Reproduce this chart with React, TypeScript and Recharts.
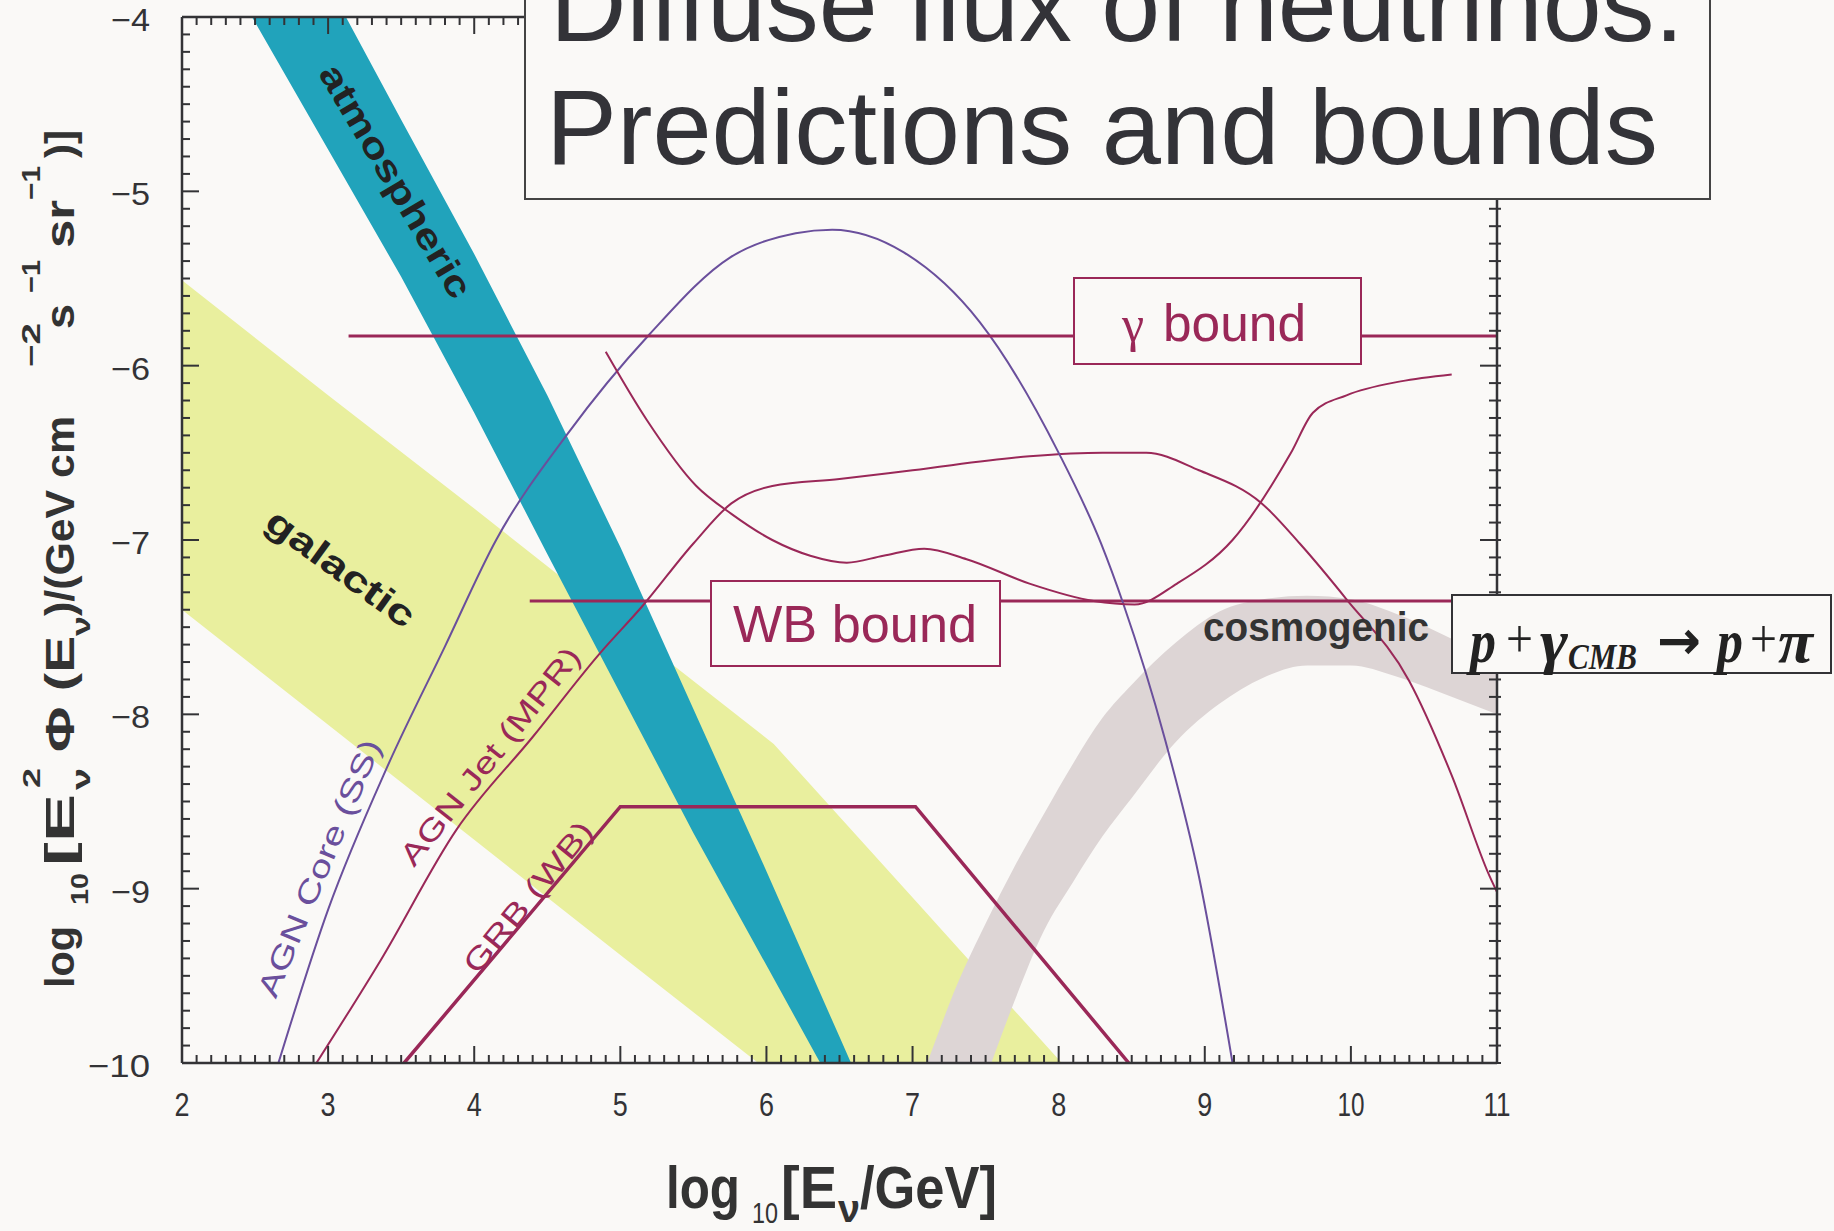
import React from "react";
import { ComposedChart, Area, Line, XAxis, YAxis } from "recharts";

const W = 1834;
const H = 1231;
const BG = "#faf9f7";
const AXIS = "#333336";
const TEAL = "#21a3bb";
const YELLOW = "#e9ef9e";
const COSMO = "#ddd5d5";
const PURPLE = "#6a4f9c";
const MAROON = "#9a2858";
const SANS = "'Liberation Sans', Arial, Helvetica, sans-serif";
const SERIF = "'Liberation Serif', 'Times New Roman', serif";

// galactic band (log10 E, lower / upper edge)
const galacticX = [2, 3, 4, 5, 6.05, 7.0, 8.0, 8.2];
const galacticLow = [-7.4, -8.06, -8.72, -9.38, -10.07, -10.7, -11.35, -11.48];
const galacticHigh = [-5.51, -6.17, -6.82, -7.48, -8.17, -9.05, -9.98, -10.17];

// atmospheric band
const atmoX = [2, 2.5, 3, 3.5, 4, 4.5, 5, 5.5, 6, 6.5, 7];
const atmoLow = [-3.3, -4.03, -4.76, -5.49, -6.27, -7.08, -7.88, -8.68, -9.44, -10.2, -10.96];
const atmoHigh = [-2.26, -3.04, -3.81, -4.59, -5.36, -6.17, -7.04, -7.97, -8.9, -9.85, -10.8];

// cosmogenic band
const cosmoX = [6.9, 7.1, 7.3, 7.5, 7.7, 7.9, 8.1, 8.3, 8.5, 8.8, 9.1, 9.4, 9.7, 10.0, 10.3, 10.6, 11.0];
const cosmoLow = [-11.5, -11.0, -10.55, -10.09, -9.64, -9.24, -8.96, -8.7, -8.48, -8.16, -7.94, -7.79, -7.72, -7.72, -7.78, -7.87, -8.0];
const cosmoHigh = [-10.45, -10.0, -9.56, -9.2, -8.87, -8.57, -8.28, -8.02, -7.83, -7.59, -7.41, -7.34, -7.32, -7.34, -7.42, -7.53, -7.7];

// AGN core (SS)
const agnCoreX = [2.66, 3.0, 3.4, 3.8, 4.15, 4.64, 5.2, 5.75, 6.2, 6.45, 6.94, 7.46, 8.0, 8.29, 8.44, 8.73, 8.96, 9.19];
const agnCoreY = [-10, -9.12, -8.31, -7.61, -7.0, -6.39, -5.82, -5.38, -5.24, -5.22, -5.35, -5.75, -6.5, -7.02, -7.36, -8.15, -8.93, -10];

// AGN jet (MPR)
const agnJetX = [2.92, 3.36, 3.88, 4.4, 4.86, 5.15, 5.5, 5.76, 6.04, 6.5, 7.0, 7.8, 8.3, 8.6, 8.96, 9.39, 9.65, 9.97, 10.4, 10.69, 10.95, 11.0];
const agnJetY = [-10, -9.41, -8.66, -8.13, -7.65, -7.38, -7.02, -6.79, -6.69, -6.65, -6.6, -6.52, -6.5, -6.5, -6.6, -6.79, -7.02, -7.34, -7.81, -8.35, -8.93, -9.02];

// GRB (WB)
const grbX = [3.52, 5.0, 7.02, 8.48];
const grbY = [-10, -8.53, -8.53, -10];

// top-down style curve
const tdX = [4.9, 5.18, 5.52, 5.76, 6.04, 6.3, 6.55, 6.8, 7.08, 7.37, 7.8, 8.24, 8.52, 8.81, 9.19, 9.59, 9.74, 9.97, 10.34, 10.69];
const tdY = [-5.92, -6.31, -6.69, -6.85, -7.0, -7.09, -7.13, -7.09, -7.05, -7.11, -7.25, -7.35, -7.37, -7.25, -7.0, -6.5, -6.27, -6.17, -6.09, -6.05];

// bounds
const gammaBoundX = [3.14, 11];
const gammaBoundY = [-5.83, -5.83];
const wbBoundX = [4.38, 11];
const wbBoundY = [-7.35, -7.35];

const X_MAJOR = [2, 3, 4, 5, 6, 7, 8, 9, 10, 11];
const Y_MAJOR = [-10, -9, -8, -7, -6, -5, -4];
const xTicks = Array.from({ length: 91 }, (_, i) => (20 + i) / 10);
const yTicks = Array.from({ length: 61 }, (_, i) => (-100 + i) / 10);

const band = (xs: number[], lo: number[], hi: number[]) => xs.map((x, i) => ({ x, band: [lo[i], hi[i]] }));
const curve = (xs: number[], ys: number[]) => xs.map((x, i) => ({ x, y: ys[i] }));

const isMajor = (v: number) => Math.abs(v - Math.round(v)) < 1e-6;

const BottomTick = (p: any) => {
  const { x, y, payload } = p;
  const v = payload.value;
  const major = isMajor(v) && X_MAJOR.includes(Math.round(v));
  return (
    <g>
      <line x1={x} x2={x} y1={y} y2={y - (major ? 17 : 8)} stroke={AXIS} strokeWidth={2} />
      {major && (
        <text x={x} y={y + 53} textAnchor="middle" fontSize={34} fill={AXIS} fontFamily={SANS}
          textLength={String(Math.round(v)).length > 1 ? 27 : 15} lengthAdjust="spacingAndGlyphs">
          {Math.round(v)}
        </text>
      )}
    </g>
  );
};

const TopTick = (p: any) => {
  const { x, y, payload } = p;
  const major = isMajor(payload.value);
  return <line x1={x} x2={x} y1={y} y2={y + (major ? 17 : 8)} stroke={AXIS} strokeWidth={2} />;
};

const LeftTick = (p: any) => {
  const { x, y, payload } = p;
  const v = payload.value;
  const major = isMajor(v) && Y_MAJOR.includes(Math.round(v));
  const label = "\u2212" + Math.abs(Math.round(v));
  return (
    <g>
      <line x1={x} x2={x + (major ? 17 : 8)} y1={y} y2={y} stroke={AXIS} strokeWidth={2} />
      {major && (
        <text x={x - 32} y={y + 14} textAnchor="end" fontSize={32} fill={AXIS} fontFamily={SANS}
          textLength={label.length > 2 ? 62 : 39} lengthAdjust="spacingAndGlyphs">
          {label}
        </text>
      )}
    </g>
  );
};

const RightTick = (p: any) => {
  const { x, y, payload } = p;
  const major = isMajor(payload.value);
  return <line x1={x - (major ? 17 : 8)} x2={x + 4} y1={y} y2={y} stroke={AXIS} strokeWidth={2} />;
};

const T = (props: any) => (
  <text fontFamily={SANS} lengthAdjust="spacingAndGlyphs" {...props} />
);

function Overlay() {
  return (
    <svg width={W} height={H} style={{ position: "absolute", left: 0, top: 0, pointerEvents: "none" }}>
      {/* band / curve labels */}
      <T x={396} y={181} transform="rotate(59.4 396 181)" textAnchor="middle" dominantBaseline="central"
        fontSize={36} fontWeight="bold" fill="#222" textLength={265}>atmospheric</T>
      <T x={341} y={568} transform="rotate(36 341 568)" textAnchor="middle" dominantBaseline="central"
        fontSize={36} fontWeight="bold" fill="#222" textLength={175}>galactic</T>
      <T x={1203} y={641} fontSize={40} fontWeight="bold" fill="#333" textLength={226}>cosmogenic</T>
      <T x={319} y={868} transform="rotate(-67.4 319 868)" textAnchor="middle" dominantBaseline="central"
        fontSize={30} fill={PURPLE} textLength={276}>AGN Core (SS)</T>
      <T x={490} y={756} transform="rotate(-51.4 490 756)" textAnchor="middle" dominantBaseline="central"
        fontSize={30} fill={MAROON} textLength={270}>AGN Jet (MPR)</T>
      <T x={528} y={897} transform="rotate(-50.8 528 897)" textAnchor="middle" dominantBaseline="central"
        fontSize={30} fill={MAROON} textLength={186}>GRB (WB)</T>

      {/* gamma bound box */}
      <rect x={1074} y={278} width={287} height={86} fill={BG} stroke={MAROON} strokeWidth={2} />
      <text x={1122} y={341} fontFamily={SERIF} fontSize={50} fill={MAROON}>γ</text>
      <T x={1163} y={341} fontSize={52} fill={MAROON} textLength={143}>bound</T>

      {/* WB bound box */}
      <rect x={711} y={581} width={289} height={85} fill={BG} stroke={MAROON} strokeWidth={2} />
      <T x={733} y={642} fontSize={52} fill={MAROON} textLength={244}>WB bound</T>

      {/* p + gamma box */}
      <rect x={1452} y={595} width={379} height={78} fill={BG} stroke={AXIS} strokeWidth={2} />
      <g fontFamily={SERIF} fontStyle="italic" fontWeight="bold" fill="#222">
        <text x={1470} y={662} fontSize={62} textLength={26} lengthAdjust="spacingAndGlyphs">p</text>
        <text x={1506} y={657} fontSize={54} fontStyle="normal" fontWeight="normal" textLength={27} lengthAdjust="spacingAndGlyphs">+</text>
        <text x={1540} y={662} fontSize={62} textLength={28} lengthAdjust="spacingAndGlyphs">γ</text>
        <text x={1568} y={669} fontSize={36} textLength={69} lengthAdjust="spacingAndGlyphs">CMB</text>
        <text x={1657} y={659} fontSize={54} fontStyle="normal" fontFamily="'DejaVu Sans', sans-serif"
          textLength={44} lengthAdjust="spacingAndGlyphs">→</text>
        <text x={1717} y={662} fontSize={62} textLength={26} lengthAdjust="spacingAndGlyphs">p</text>
        <text x={1750} y={657} fontSize={54} fontStyle="normal" fontWeight="normal" textLength={27} lengthAdjust="spacingAndGlyphs">+</text>
        <text x={1778} y={662} fontSize={62} textLength={35} lengthAdjust="spacingAndGlyphs">π</text>
      </g>

      {/* title box */}
      <rect x={525} y={-10} width={1185} height={209} fill={BG} stroke="#444" strokeWidth={2} />
      <T x={550} y={41} fontSize={106} fill="#333338" textLength={1134}>Diffuse flux of neutrinos:</T>
      <T x={546} y={164} fontSize={106} fill="#333338" textLength={1112}>Predictions and bounds</T>

      {/* x axis title */}
      <g fill="#333" fontWeight="bold">
        <T x={666} y={1208} fontSize={60} textLength={74}>log</T>
        <T x={752} y={1223} fontSize={30} fontWeight="normal" textLength={26}>10</T>
        <T x={781} y={1208} fontSize={60} textLength={56}>[E</T>
        <T x={838} y={1222} fontSize={38} textLength={22}>ν</T>
        <T x={860} y={1208} fontSize={60} textLength={137}>/GeV]</T>
      </g>

      {/* y axis title */}
      <g transform="rotate(-90)" fill="#333" fontWeight="bold">
        <T x={-988} y={74} fontSize={41} textLength={62}>log</T>
        <T x={-905} y={88} fontSize={24} textLength={32}>10</T>
        <T x={-866} y={74} fontSize={41} textLength={72}>[E</T>
        <T x={-790} y={90} fontSize={26} textLength={22}>ν</T>
        <T x={-788} y={40} fontSize={24} textLength={20}>2</T>
        <T x={-752} y={74} fontSize={41} textLength={116}>Φ (E</T>
        <T x={-636} y={90} fontSize={26} textLength={20}>ν</T>
        <T x={-616} y={74} fontSize={41} textLength={200}>)/(GeV cm</T>
        <T x={-367} y={40} fontSize={26} textLength={44}>−2</T>
        <T x={-329} y={74} fontSize={41} textLength={25}>s</T>
        <T x={-293} y={40} fontSize={26} textLength={33}>−1</T>
        <T x={-248} y={74} fontSize={41} textLength={48}>sr</T>
        <T x={-200} y={40} fontSize={26} textLength={34}>−1</T>
        <T x={-158} y={74} fontSize={41} textLength={28}>)]</T>
      </g>
    </svg>
  );
}

export default function App() {
  const axisLine = { stroke: AXIS, strokeWidth: 2.5 };
  return (
    <div style={{ position: "relative", width: W, height: H, background: BG }}>
      <style>{`body{margin:0;background:${BG};}`}</style>
      <ComposedChart width={W} height={H} margin={{ top: 16, right: 336, bottom: 167, left: 181 }}>
        <XAxis xAxisId="b" type="number" dataKey="x" domain={[2, 11]} ticks={xTicks} interval={0}
          allowDataOverflow height={1} tickSize={0} tickMargin={0} tickLine={false} axisLine={axisLine} tick={BottomTick} />
        <XAxis xAxisId="t" orientation="top" type="number" dataKey="x" domain={[2, 11]} ticks={xTicks} interval={0}
          allowDataOverflow height={1} tickSize={0} tickMargin={0} tickLine={false} axisLine={axisLine} tick={TopTick} />
        <YAxis yAxisId="l" type="number" domain={[-10, -4]} ticks={yTicks} interval={0}
          allowDataOverflow width={1} tickSize={0} tickMargin={0} tickLine={false} axisLine={axisLine} tick={LeftTick} />
        <YAxis yAxisId="r" orientation="right" type="number" domain={[-10, -4]} ticks={yTicks} interval={0}
          allowDataOverflow width={1} tickSize={0} tickMargin={0} tickLine={false} axisLine={axisLine} tick={RightTick} />

        <Area xAxisId="b" yAxisId="l" data={band(galacticX, galacticLow, galacticHigh)} dataKey="band"
          type="linear" stroke="none" fill={YELLOW} fillOpacity={1} isAnimationActive={false} />
        <Area xAxisId="b" yAxisId="l" data={band(atmoX, atmoLow, atmoHigh)} dataKey="band"
          type="linear" stroke="none" fill={TEAL} fillOpacity={1} isAnimationActive={false} />
        <Line xAxisId="b" yAxisId="l" data={curve(wbBoundX, wbBoundY)} dataKey="y" type="linear"
          stroke={MAROON} strokeWidth={3} dot={false} activeDot={false} isAnimationActive={false} />
        <Line xAxisId="b" yAxisId="l" data={curve(agnJetX, agnJetY)} dataKey="y" type="monotone"
          stroke={MAROON} strokeWidth={2} dot={false} activeDot={false} isAnimationActive={false} />
        <Area xAxisId="b" yAxisId="l" data={band(cosmoX, cosmoLow, cosmoHigh)} dataKey="band"
          type="monotone" stroke="none" fill={COSMO} fillOpacity={1} isAnimationActive={false} />
        <Line xAxisId="b" yAxisId="l" data={curve(agnCoreX, agnCoreY)} dataKey="y" type="monotone"
          stroke={PURPLE} strokeWidth={2} dot={false} activeDot={false} isAnimationActive={false} />
        <Line xAxisId="b" yAxisId="l" data={curve(grbX, grbY)} dataKey="y" type="linear"
          stroke={MAROON} strokeWidth={3.5} dot={false} activeDot={false} isAnimationActive={false} />
        <Line xAxisId="b" yAxisId="l" data={curve(gammaBoundX, gammaBoundY)} dataKey="y" type="linear"
          stroke={MAROON} strokeWidth={3} dot={false} activeDot={false} isAnimationActive={false} />
        <Line xAxisId="b" yAxisId="l" data={curve(tdX, tdY)} dataKey="y" type="monotone"
          stroke={MAROON} strokeWidth={2} dot={false} activeDot={false} isAnimationActive={false} />
      </ComposedChart>
      <Overlay />
    </div>
  );
}
